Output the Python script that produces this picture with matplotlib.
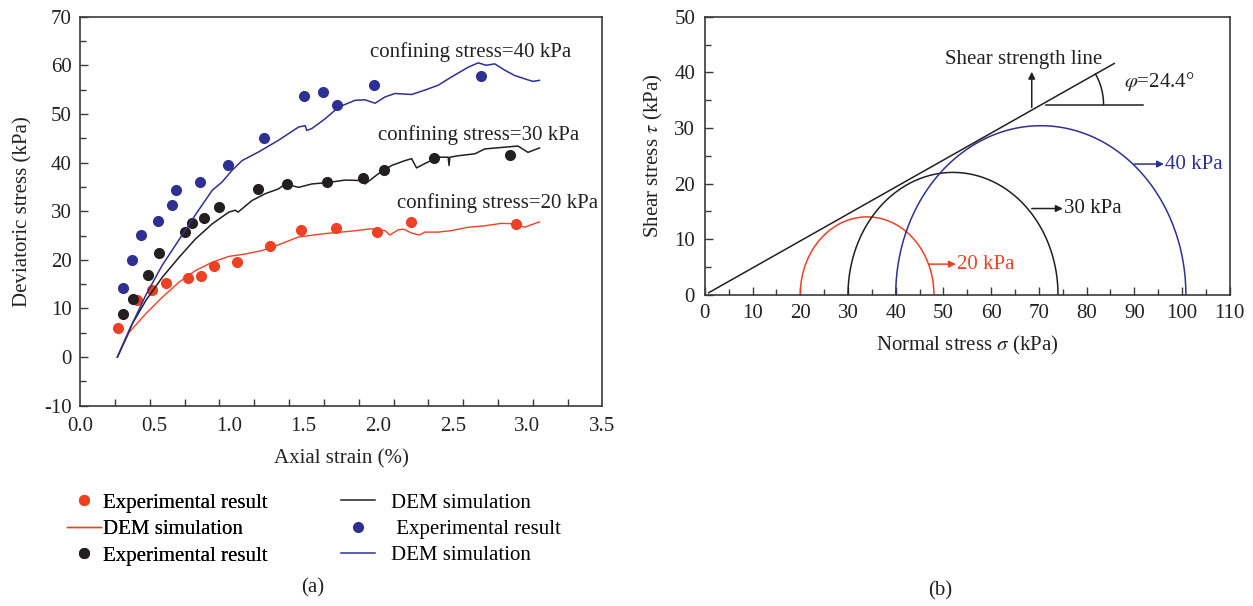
import numpy as np
import matplotlib.pyplot as plt
from matplotlib.ticker import MultipleLocator, FixedLocator

plt.rcParams['font.family'] = 'Liberation Serif'
plt.rcParams['mathtext.fontset'] = 'stix'
plt.rcParams['axes.unicode_minus'] = False

RED = '#ee4124'
BLACK = '#231f20'
BLUE = '#2e3192'
SPINE = '#3a3a3a'
FS = 15

# ---- (a) triaxial curves ----
exp20_x = [0.258, 0.385, 0.481, 0.579, 0.726, 0.809, 0.898, 1.054, 1.277, 1.481, 1.717, 1.990, 2.223, 2.921]
exp20_y = [6.0, 11.7, 13.8, 15.2, 16.2, 16.6, 18.7, 19.5, 22.8, 26.2, 26.5, 25.7, 27.8, 27.4]
exp30_x = [0.292, 0.359, 0.459, 0.530, 0.702, 0.749, 0.833, 0.933, 1.194, 1.388, 1.655, 1.901, 2.039, 2.375, 2.881]
exp30_y = [8.9, 12.0, 16.8, 21.5, 25.7, 27.6, 28.7, 30.8, 34.6, 35.6, 35.9, 36.9, 38.4, 41.0, 41.5]
exp40_x = [0.292, 0.352, 0.408, 0.526, 0.619, 0.641, 0.804, 0.991, 1.232, 1.504, 1.633, 1.722, 1.974, 2.691]
exp40_y = [14.2, 20.0, 25.2, 27.9, 31.2, 34.3, 36.1, 39.4, 45.1, 53.6, 54.6, 51.9, 56.0, 57.7]

dem20_x = [0.251, 0.330, 0.441, 0.552, 0.664, 0.775, 0.887, 0.998, 1.109, 1.220, 1.332, 1.466, 1.644,
           1.823, 1.957, 2.046, 2.078, 2.135, 2.171, 2.224, 2.277, 2.313, 2.402, 2.491, 2.603, 2.714,
           2.826, 2.915, 2.981, 3.081]
dem20_y = [0, 5.1, 8.9, 12.3, 15.4, 17.8, 19.5, 20.7, 21.2, 21.9, 23.1, 24.7, 25.4,
           25.9, 26.4, 26.0, 25.1, 26.2, 26.3, 25.5, 25.1, 25.7, 25.7, 26.0, 26.7, 27.0,
           27.5, 27.4, 26.7, 27.8]
dem30_x = [0.251, 0.352, 0.441, 0.552, 0.664, 0.775, 0.887, 0.998, 1.042, 1.060, 1.154, 1.243, 1.332,
           1.377, 1.466, 1.555, 1.666, 1.778, 1.889, 1.912, 2.001, 2.090, 2.179, 2.224, 2.257, 2.313,
           2.402, 2.469, 2.475, 2.480, 2.536, 2.648, 2.714, 2.826, 2.937, 3.004, 3.081]
dem30_y = [0, 6.9, 11.6, 16.4, 20.5, 24.3, 27.4, 29.8, 30.2, 29.8, 32.2, 33.6, 34.6,
           35.6, 34.9, 35.6, 35.9, 36.4, 36.3, 35.6, 37.7, 39.4, 40.4, 40.8, 38.9, 39.8,
           41.1, 41.1, 39.4, 41.1, 41.4, 41.8, 42.8, 43.1, 43.4, 42.1, 43.0]
dem40_x = [0.251, 0.330, 0.441, 0.552, 0.664, 0.775, 0.887, 0.953, 1.020, 1.087, 1.199, 1.332, 1.466,
           1.510, 1.521, 1.555, 1.644, 1.734, 1.845, 1.912, 1.979, 2.046, 2.112, 2.224, 2.313, 2.402,
           2.491, 2.603, 2.670, 2.725, 2.781, 2.848, 2.915, 3.004, 3.037, 3.081]
dem40_y = [0, 5.5, 12.7, 18.9, 24.1, 29.3, 34.3, 36.0, 38.4, 40.4, 42.2, 44.6, 47.3,
           47.6, 46.6, 47.0, 49.0, 51.4, 52.8, 52.9, 52.2, 53.5, 54.2, 54.0, 54.9, 55.9,
           57.6, 59.6, 60.5, 60.0, 60.3, 59.0, 57.9, 57.0, 56.7, 56.9]

# tick marks on the strain axis (they don't sit on the labels in the original)
strain_marks = [0.235 + 0.2335 * k for k in range(14)]

# ---- (b) Mohr circles ----
sigma3 = [20, 30, 40]
sigma1 = [48, 74, 100.8]
circle_colors = [RED, BLACK, BLUE]
circle_labels = ['20 kPa', '30 kPa', '40 kPa']
label_arrow_x = [(47.0, 52.6), (68.5, 75.0), (90.0, 96.2)]
label_arrow_y = [5.5, 15.5, 23.5]
strength_x = [0.8, 85.8]
strength_y = [0.35, 41.6]

fig = plt.figure(figsize=(12.53, 6.06), dpi=100)
ax1 = fig.add_axes([0.0638, 0.3305, 0.4166, 0.642])
ax2 = fig.add_axes([0.5625, 0.5137, 0.419, 0.4587])

ax1.plot(exp20_x, exp20_y, 'o', color=RED, ms=7, label='Experimental result')
ax1.plot(dem20_x, dem20_y, '-', color=RED, lw=1.0, label='DEM simulation')
ax1.plot(exp30_x, exp30_y, 'o', color=BLACK, ms=7, label='Experimental result')
ax1.plot(dem30_x, dem30_y, '-', color=BLACK, lw=1.1, label='DEM simulation')
ax1.plot(exp40_x, exp40_y, 'o', color=BLUE, ms=7, label=' Experimental result')
ax1.plot(dem40_x, dem40_y, '-', color=BLUE, lw=1.1, label='DEM simulation')

ax1.text(1.942, 62.8, 'confining stress=40 kPa', fontsize=FS, va='center', color='#222222')
ax1.text(1.996, 45.7, 'confining stress=30 kPa', fontsize=FS, va='center', color='#222222')
ax1.text(2.129, 31.6, 'confining stress=20 kPa', fontsize=FS, va='center', color='#222222')

ax1.set_xlim(0, 3.5)
ax1.set_ylim(-10, 70)
ax1.set_xticks(np.arange(0, 3.51, 0.5))
ax1.set_xticklabels(['%.1f' % v for v in np.arange(0, 3.51, 0.5)])
ax1.xaxis.set_minor_locator(FixedLocator(strain_marks))
ax1.yaxis.set_major_locator(MultipleLocator(10))
ax1.yaxis.set_minor_locator(MultipleLocator(5))
ax1.tick_params(axis='x', which='major', length=0, pad=8, labelsize=FS, colors='#222222')
ax1.tick_params(axis='x', which='minor', direction='in', length=5, width=1, color=SPINE)
ax1.tick_params(axis='y', which='major', direction='in', length=6, width=1, pad=6,
                labelsize=FS, color=SPINE, labelcolor='#222222')
ax1.tick_params(axis='y', which='minor', direction='in', length=4, width=1, color=SPINE)
ax1.set_xlabel('Axial strain (%)', fontsize=FS, color='#222222')
ax1.set_ylabel('Deviatoric stress (kPa)', fontsize=FS, color='#222222')
ax1.xaxis.set_label_coords(0.5, -0.112)
ax1.yaxis.set_label_coords(-0.09, 0.5)

h, l = ax1.get_legend_handles_labels()
leg1 = fig.legend([h[0], h[1], h[2]], [l[0], l[1], l[2]], loc='upper left',
                  bbox_to_anchor=(67 / 1253, 1 - 493 / 606), frameon=False, fontsize=FS,
                  handlelength=1.65, handletextpad=0.1, labelspacing=0.33, borderpad=0,
                  borderaxespad=0)
leg2 = fig.legend([h[3], h[4], h[5]], [l[3], l[4], l[5]], loc='upper left',
                  bbox_to_anchor=(341 / 1253, 1 - 493 / 606), frameon=False, fontsize=FS,
                  handlelength=1.65, handletextpad=0.75, labelspacing=0.33, borderpad=0,
                  borderaxespad=0)
fig.add_artist(leg1)

# ---- (b) ----
theta = np.linspace(0, np.pi, 200)
for s3, s1, c in zip(sigma3, sigma1, circle_colors):
    cen, r = (s1 + s3) / 2, (s1 - s3) / 2
    ax2.plot(cen + r * np.cos(theta), r * np.sin(theta), color=c, lw=1.1)

ax2.plot(strength_x, strength_y, color=BLACK, lw=1.1)

for (xa, xb), ya, c, lab in zip(label_arrow_x, label_arrow_y, circle_colors, circle_labels):
    ax2.annotate('', xy=(xb, ya), xytext=(xa, ya),
                 arrowprops=dict(arrowstyle='-|>', color=c, lw=1.1, mutation_scale=10,
                                 shrinkA=0, shrinkB=0))
    ax2.text(xb + 0.3, ya, lab, color=c, fontsize=FS, va='center', ha='left')

ax2.annotate('', xy=(68.5, 40.1), xytext=(68.5, 33.7),
             arrowprops=dict(arrowstyle='-|>', color=BLACK, lw=1.1, mutation_scale=10,
                             shrinkA=0, shrinkB=0))
ax2.text(66.8, 42.3, 'Shear strength line', fontsize=FS, ha='center', va='center', color='#222222')
ax2.plot([71.4, 91.8], [34.2, 34.2], color=BLACK, lw=1.1)

# angle arc, circular on screen
ax_w = 0.419 * 1253
ax_h = 0.4587 * 606
kx, ky = ax_w / 110, ax_h / 50
slope = (strength_y[1] - strength_y[0]) / (strength_x[1] - strength_x[0])
cx = strength_x[0] + (34.2 - strength_y[0]) / slope
t = np.linspace(0, np.arctan(slope * ky / kx), 40)
ax2.plot(cx + 62 * np.cos(t) / kx, 34.2 + 62 * np.sin(t) / ky, color=BLACK, lw=1.1)
ax2.text(87.8, 38.3, r'$\varphi$=24.4°', fontsize=FS, va='center', ha='left', color='#222222')

ax2.set_xlim(0, 110)
ax2.set_ylim(0, 50)
ax2.xaxis.set_major_locator(MultipleLocator(10))
ax2.xaxis.set_minor_locator(MultipleLocator(5))
ax2.yaxis.set_major_locator(MultipleLocator(10))
ax2.yaxis.set_minor_locator(MultipleLocator(5))
ax2.tick_params(which='major', direction='in', length=6, width=1, pad=7, labelsize=FS,
                color=SPINE, labelcolor='#222222')
ax2.tick_params(which='minor', direction='in', length=4, width=1, color=SPINE)
ax2.set_xlabel(r'Normal stress $\sigma$ (kPa)', fontsize=FS, color='#222222')
ax2.set_ylabel(r'Shear stress $\tau$ (kPa)', fontsize=FS, color='#222222')
ax2.xaxis.set_label_coords(0.5, -0.14)
ax2.yaxis.set_label_coords(-0.075, 0.5)

for ax in (ax1, ax2):
    for sp in ax.spines.values():
        sp.set_color(SPINE)
        sp.set_linewidth(1.2)

fig.text(313 / 1253, 1 - 588 / 606, '(a)', fontsize=FS, ha='center', va='center', color='#222222')
fig.text(940 / 1253, 1 - 591 / 606, '(b)', fontsize=FS, ha='center', va='center', color='#222222')

fig.savefig('out.png', dpi=100)
